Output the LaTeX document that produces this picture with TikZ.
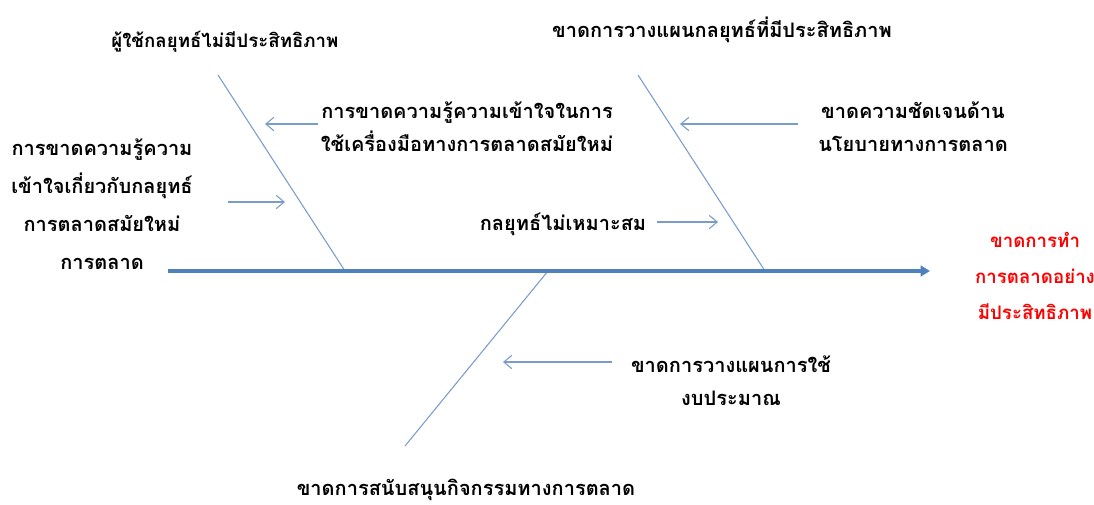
\documentclass[tikz,border=0pt]{standalone}
\usepackage{fontspec}
\newfontfamily\thaifont[Script=Thai]{Loma}
\usetikzlibrary{arrows.meta}
\definecolor{spine}{HTML}{4F81BD}
\definecolor{bone}{HTML}{7A9CCB}
\definecolor{effect}{HTML}{FF0000}
\begin{document}
\begin{tikzpicture}[x=0.75pt,y=-0.75pt,
  lbl/.style={font=\thaifont\bfseries\fontsize{15}{24.5}\selectfont, align=center, inner sep=0pt},
  bonel/.style={draw=bone, line width=0.8pt},
  subarrow/.style={draw=bone, line width=0.8pt, -{Straight Barb[length=6pt,width=10pt]}},
  spinel/.style={draw=spine, line width=2.4pt, -{Triangle[length=7pt,width=8pt]}}]
\useasboundingbox (0,0) rectangle (1094,504);
% bones
\coordinate (b1t) at (218,75);  \coordinate (b1b) at (345,271);
\coordinate (b2t) at (638,75);  \coordinate (b2b) at (765,271);
\coordinate (b3t) at (548,271); \coordinate (b3b) at (405,446);
\coordinate (s0) at (168,271);  \coordinate (s1) at (930,271);
\draw[bonel] (b1t) -- (b1b);
\draw[bonel] (b2t) -- (b2b);
\draw[bonel] (b3t) -- (b3b);
\draw[spinel] (s0) -- (s1);
% labels
\node[lbl, font=\thaifont\bfseries\fontsize{14}{20}\selectfont] (t1) at (225,42) {ผู้ใช้กลยุทธ์ไม่มีประสิทธิภาพ};
\node[lbl] (t2) at (722,30) {ขาดการวางแผนกลยุทธ์ที่มีประสิทธิภาพ};
\node[lbl] (c1) at (467,127) {การขาดความรู้ความเข้าใจในการ\\ใช้เครื่องมือทางการตลาดสมัยใหม่};
\node[lbl] (c2) at (913,127) {ขาดความชัดเจนด้าน\\นโยบายทางการตลาด};
\node[lbl, font=\thaifont\bfseries\fontsize{15}{28.5}\selectfont] (c3) at (102,204) {การขาดความรู้ความ\\เข้าใจเกี่ยวกับกลยุทธ์\\การตลาดสมัยใหม่\\การตลาด};
\node[lbl] (c4) at (563,224) {กลยุทธ์ไม่เหมาะสม};
\node[lbl, text=effect, font=\thaifont\bfseries\fontsize{14}{27}\selectfont] (eff) at (1035,276) {ขาดการทำ\\การตลาดอย่าง\\มีประสิทธิภาพ};
\node[lbl] (c5) at (731,381) {ขาดการวางแผนการใช้\\งบประมาณ};
\node[lbl] (t3) at (466,490) {ขาดการสนับสนุนกิจกรรมทางการตลาด};
% sub arrows
\coordinate (a1s) at (318,124); \coordinate (a1e) at (265,124);
\coordinate (a2s) at (228,202); \coordinate (a2e) at (285,202);
\coordinate (a3s) at (798,124); \coordinate (a3e) at (680,124);
\coordinate (a4s) at (657,222); \coordinate (a4e) at (718,222);
\coordinate (a5s) at (612,362); \coordinate (a5e) at (503,362);
\draw[subarrow] (a1s) -- (a1e);
\draw[subarrow] (a2s) -- (a2e);
\draw[subarrow] (a3s) -- (a3e);
\draw[subarrow] (a4s) -- (a4e);
\draw[subarrow] (a5s) -- (a5e);
\end{tikzpicture}
\end{document}
